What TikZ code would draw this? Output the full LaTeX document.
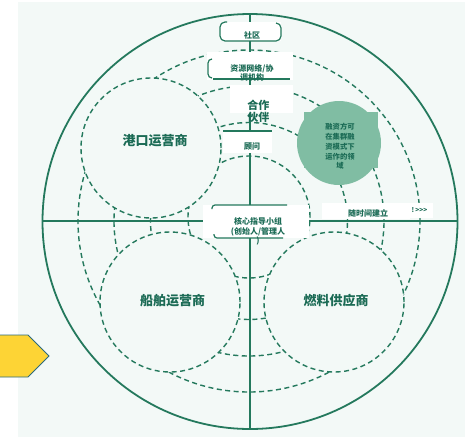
\documentclass[tikz,border=0pt]{standalone}
\usepackage{fontspec}
\newfontfamily\cjk{Noto Sans CJK SC}
\definecolor{bgc}{HTML}{F3F9F7}
\definecolor{lc}{HTML}{24795D}
\definecolor{tc}{HTML}{1B6B55}
\definecolor{gc}{HTML}{80BDA3}
\definecolor{yc}{HTML}{FDD435}
\definecolor{yb}{HTML}{2C6A7C}
\begin{document}
\begin{tikzpicture}[x=1pt,y=-1pt,
 ring/.style={draw=lc,line width=1.4pt,dash pattern=on 5pt off 3.5pt},
 solidl/.style={draw=lc,line width=1.8pt},
 bigc/.style={circle,draw=lc,line width=1.4pt,dash pattern=on 5pt off 3.5pt,fill=bgc,minimum size=140pt,inner sep=0pt},
 big/.style={font=\cjk\bfseries\fontsize{13}{15}\selectfont,text=tc,inner sep=0pt},
 small/.style={font=\cjk\bfseries\fontsize{8}{9.7}\selectfont,text=tc,align=center,inner sep=0pt},
 mid/.style={font=\cjk\bfseries\fontsize{11}{12}\selectfont,text=tc,align=center,inner sep=0pt},
 edge/.style={draw=lc,line width=1.2pt}
]
\useasboundingbox (0,0) rectangle (465,437);
\fill[white] (0,0) rectangle (465,437);
\fill[bgc] (18,2) rectangle (465,437);
% centre and rings
\coordinate (C) at (249,221);
\coordinate (C1) at (249,217);
\draw[ring] (C1) circle (61pt);
\draw[ring] (C) circle (98.5pt);
\draw[ring] (C) circle (135pt);
\draw[ring] (C) circle (171pt);
% outer circle and cross
\coordinate (O) at (250,221.5);
\draw[solidl] (O) circle (207.5pt);
\coordinate (T) at (250,14);
\coordinate (B) at (250,429);
\coordinate (L) at (43,221);
\coordinate (R) at (457,221);
\draw[solidl] (T) -- (B);
\draw[solidl] (L) -- (R);
% big circles
\node[bigc] (port) at (151,148) {};
\node[bigc] (ship) at (170,302) {};
\node[bigc] (fuel) at (334,302) {};
\node[big] (portt) at (155,141) {港口运营商};
\node[big] (shipt) at (172.5,301) {船舶运营商};
\node[big] (fuelt) at (336,301) {燃料供应商};
% financing circle
\node[circle,fill=gc,minimum size=84pt,inner sep=0pt] (fin) at (339,143) {};
\fill[gc] (304,112) rectangle (378,168);
\node[font=\cjk\bfseries\fontsize{7.3}{9.8}\selectfont,text=tc,align=center,inner sep=0pt] (fint) at (340,146.5) {融资方可\\在集群融\\资模式下\\运作的领\\域};
% community box
\fill[white] (220,22) rectangle (281,41);
\draw[edge,rounded corners=5pt] (227,22) -- (220,22) -- (220,41) -- (281,41) -- (281,23) -- (276,23);
\node[small] (shequ) at (252,35.5) {社区};
% resource network box
\fill[white] (207,52) rectangle (293,80);
\draw[edge,rounded corners=4pt] (212,59) -- (208,59) -- (208,78) -- (212,78);
\draw[edge] (213,79) -- (290,79);
\node[small] (res) at (252,72.8) {资源网络/协\\调机构};
% partners box
\fill[white] (230,85) rectangle (293,113);
\node[mid] (partner) at (258.3,111) {合作\\伙伴};
% advisor box
\fill[white] (223,131) rectangle (272,153);
\draw[edge] (223,131) -- (272,131);
\node[small] (adv) at (252,147) {顾问};
% core box
\fill[white] (203,205) rectangle (309,238);
\draw[edge,rounded corners=3pt] (212,209) -- (212,205) -- (287,205);
\draw[edge,rounded corners=3pt] (214,234) -- (214,238) -- (283,238);
\node[small] (core) at (258,231.5) {核心指导小组\\(创始人/管理人\\)};
% over time
\fill[white] (322,203) rectangle (410,219);
\node[small] (time) at (368,213) {随时间建立};
\fill[white] (406,203) rectangle (433,218);
\node[font=\cjk\bfseries\fontsize{6.5}{7}\selectfont,text=tc,inner sep=0pt] (more) at (419.5,210) {!\,>>>};
% yellow arrow
\draw[fill=yc,draw=yb,line width=0.9pt] (-2,335) -- (28,335) -- (49,356) -- (28,377) -- (-2,377) -- cycle;
\end{tikzpicture}
\end{document}
